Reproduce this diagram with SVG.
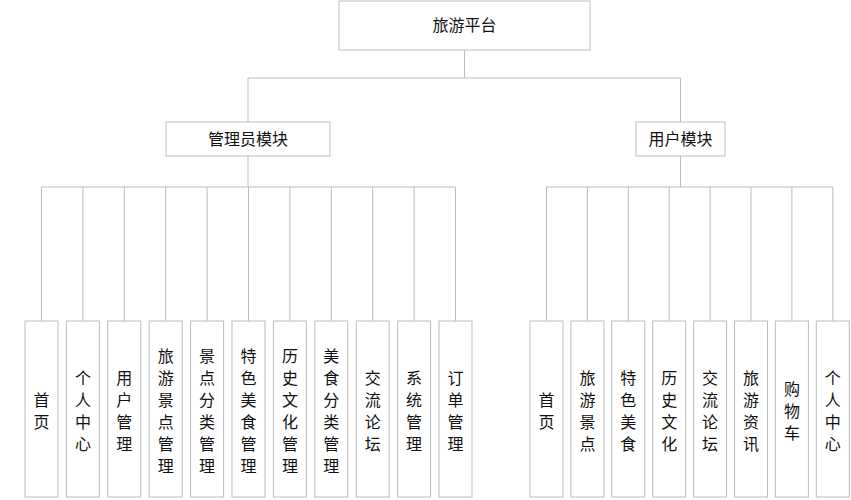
<svg xmlns="http://www.w3.org/2000/svg" width="851" height="500" viewBox="0 0 851 500">
<style>
rect{fill:#fff;stroke:#bdbdbd;stroke-width:1}
.c path{stroke:#bdbdbd;fill:none;stroke-width:1}
text{font-family:"Noto Sans CJK SC",sans-serif;font-size:16px;fill:#111;text-anchor:middle}
</style>
<rect x="0" y="0" width="851" height="500" style="stroke:none"/>
<g class="c">
<path d="M464.5 50V78M248 78H680.5M248 78V122M680.5 78V122M248 156V187M680.5 156V187M41.5 187H455.5M546.5 187H833"/>
<path d="M41.5 187V321M82.9 187V321M124.3 187V321M165.7 187V321M207.1 187V321M248.5 187V321M289.9 187V321M331.3 187V321M372.7 187V321M414.1 187V321M455.5 187V321"/>
<path d="M546.5 187V321M587.4 187V321M628.3 187V321M669.2 187V321M710.1 187V321M751 187V321M791.9 187V321M832.8 187V321"/>
</g>
<g id="root"><rect x="339" y="1" width="251" height="49"/><text x="464.5" y="31">旅游平台</text></g>
<g id="admin"><rect x="166" y="122" width="164" height="34"/><text x="248" y="145">管理员模块</text></g>
<g id="user"><rect x="636" y="122" width="89" height="34"/><text x="680.5" y="145">用户模块</text></g>
<g id="a1"><rect x="25" y="321" width="33" height="176"/><text x="41.5"><tspan x="41.5" y="406">首</tspan><tspan x="41.5" y="428">页</tspan></text></g>
<g id="a2"><rect x="66.4" y="321" width="33" height="176"/><text><tspan x="82.9" y="384">个</tspan><tspan x="82.9" y="406">人</tspan><tspan x="82.9" y="428">中</tspan><tspan x="82.9" y="450">心</tspan></text></g>
<g id="a3"><rect x="107.8" y="321" width="33" height="176"/><text><tspan x="124.3" y="384">用</tspan><tspan x="124.3" y="406">户</tspan><tspan x="124.3" y="428">管</tspan><tspan x="124.3" y="450">理</tspan></text></g>
<g id="a4"><rect x="149.2" y="321" width="33" height="176"/><text><tspan x="165.7" y="362">旅</tspan><tspan x="165.7" y="384">游</tspan><tspan x="165.7" y="406">景</tspan><tspan x="165.7" y="428">点</tspan><tspan x="165.7" y="450">管</tspan><tspan x="165.7" y="472">理</tspan></text></g>
<g id="a5"><rect x="190.6" y="321" width="33" height="176"/><text><tspan x="207.1" y="362">景</tspan><tspan x="207.1" y="384">点</tspan><tspan x="207.1" y="406">分</tspan><tspan x="207.1" y="428">类</tspan><tspan x="207.1" y="450">管</tspan><tspan x="207.1" y="472">理</tspan></text></g>
<g id="a6"><rect x="232" y="321" width="33" height="176"/><text><tspan x="248.5" y="362">特</tspan><tspan x="248.5" y="384">色</tspan><tspan x="248.5" y="406">美</tspan><tspan x="248.5" y="428">食</tspan><tspan x="248.5" y="450">管</tspan><tspan x="248.5" y="472">理</tspan></text></g>
<g id="a7"><rect x="273.4" y="321" width="33" height="176"/><text><tspan x="289.9" y="362">历</tspan><tspan x="289.9" y="384">史</tspan><tspan x="289.9" y="406">文</tspan><tspan x="289.9" y="428">化</tspan><tspan x="289.9" y="450">管</tspan><tspan x="289.9" y="472">理</tspan></text></g>
<g id="a8"><rect x="314.8" y="321" width="33" height="176"/><text><tspan x="331.3" y="362">美</tspan><tspan x="331.3" y="384">食</tspan><tspan x="331.3" y="406">分</tspan><tspan x="331.3" y="428">类</tspan><tspan x="331.3" y="450">管</tspan><tspan x="331.3" y="472">理</tspan></text></g>
<g id="a9"><rect x="356.2" y="321" width="33" height="176"/><text><tspan x="372.7" y="384">交</tspan><tspan x="372.7" y="406">流</tspan><tspan x="372.7" y="428">论</tspan><tspan x="372.7" y="450">坛</tspan></text></g>
<g id="a10"><rect x="397.6" y="321" width="33" height="176"/><text><tspan x="414.1" y="384">系</tspan><tspan x="414.1" y="406">统</tspan><tspan x="414.1" y="428">管</tspan><tspan x="414.1" y="450">理</tspan></text></g>
<g id="a11"><rect x="439" y="321" width="33" height="176"/><text><tspan x="455.5" y="384">订</tspan><tspan x="455.5" y="406">单</tspan><tspan x="455.5" y="428">管</tspan><tspan x="455.5" y="450">理</tspan></text></g>
<g id="u1"><rect x="530" y="321" width="33" height="176"/><text><tspan x="546.5" y="406">首</tspan><tspan x="546.5" y="428">页</tspan></text></g>
<g id="u2"><rect x="570.9" y="321" width="33" height="176"/><text><tspan x="587.4" y="384">旅</tspan><tspan x="587.4" y="406">游</tspan><tspan x="587.4" y="428">景</tspan><tspan x="587.4" y="450">点</tspan></text></g>
<g id="u3"><rect x="611.8" y="321" width="33" height="176"/><text><tspan x="628.3" y="384">特</tspan><tspan x="628.3" y="406">色</tspan><tspan x="628.3" y="428">美</tspan><tspan x="628.3" y="450">食</tspan></text></g>
<g id="u4"><rect x="652.7" y="321" width="33" height="176"/><text><tspan x="669.2" y="384">历</tspan><tspan x="669.2" y="406">史</tspan><tspan x="669.2" y="428">文</tspan><tspan x="669.2" y="450">化</tspan></text></g>
<g id="u5"><rect x="693.6" y="321" width="33" height="176"/><text><tspan x="710.1" y="384">交</tspan><tspan x="710.1" y="406">流</tspan><tspan x="710.1" y="428">论</tspan><tspan x="710.1" y="450">坛</tspan></text></g>
<g id="u6"><rect x="734.5" y="321" width="33" height="176"/><text><tspan x="751" y="384">旅</tspan><tspan x="751" y="406">游</tspan><tspan x="751" y="428">资</tspan><tspan x="751" y="450">讯</tspan></text></g>
<g id="u7"><rect x="775.4" y="321" width="33" height="176"/><text><tspan x="791.9" y="395">购</tspan><tspan x="791.9" y="417">物</tspan><tspan x="791.9" y="439">车</tspan></text></g>
<g id="u8"><rect x="816.3" y="321" width="33" height="176"/><text><tspan x="832.8" y="384">个</tspan><tspan x="832.8" y="406">人</tspan><tspan x="832.8" y="428">中</tspan><tspan x="832.8" y="450">心</tspan></text></g>
</svg>
